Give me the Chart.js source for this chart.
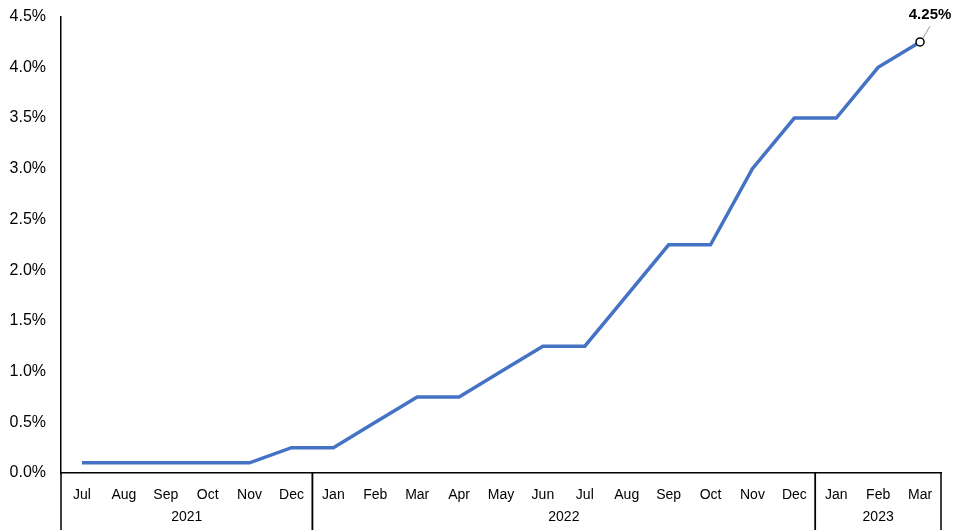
<!DOCTYPE html>
<html>
<head>
<meta charset="utf-8">
<script src="https://cdn.jsdelivr.net/npm/chart.js@4.4.1/dist/chart.umd.min.js"></script>
<style>
  html, body { margin: 0; padding: 0; background: #fff; }
  #wrap { width: 959px; height: 530px; position: relative; }
</style>
</head>
<body>
<div id="wrap"><canvas id="rate-chart"></canvas></div>
<script>
// Policy rate, monthly, Jul 2021 – Mar 2023
const months = ['Jul', 'Aug', 'Sep', 'Oct', 'Nov', 'Dec',
  'Jan', 'Feb', 'Mar', 'Apr', 'May', 'Jun', 'Jul', 'Aug', 'Sep', 'Oct', 'Nov', 'Dec',
  'Jan', 'Feb', 'Mar'];
const rates = [0.1, 0.1, 0.1, 0.1, 0.1, 0.25,
  0.25, 0.5, 0.75, 0.75, 1.0, 1.25, 1.25, 1.75, 2.25, 2.25, 3.0, 3.5,
  3.5, 4.0, 4.25];
const yearLabels = ['2021', '2022', '2023'];
const yearSpans = [6, 12, 3];
const yTicks = [0, 0.5, 1, 1.5, 2, 2.5, 3, 3.5, 4, 4.5];

const FONT = '"Liberation Sans", Arial, sans-serif';
const lastIdx = rates.length - 1;

// ── Year groups under the month labels + end label ──
const groupPlugin = {
  id: 'groups',
  afterDraw(chart) {
    const { ctx, scales: { x, y }, chartArea } = chart;
    const bottom = chart.height;
    const top = chartArea.bottom;
    const edge = i => {
      if (i <= 0) return chartArea.left;
      if (i >= months.length) return chartArea.right;
      return (x.getPixelForTick(i - 1) + x.getPixelForTick(i)) / 2;
    };
    ctx.save();
    ctx.strokeStyle = '#000';
    ctx.lineWidth = 1.5;
    ctx.fillStyle = '#000';
    ctx.font = '14px ' + FONT;
    ctx.textAlign = 'center';
    ctx.textBaseline = 'middle';
    let start = 0;
    yearLabels.forEach((lab, k) => {
      const end = start + yearSpans[k];
      const x0 = edge(start), x1 = edge(end);
      [x0, x1].forEach(px => {
        ctx.beginPath();
        ctx.moveTo(px, top);
        ctx.lineTo(px, bottom);
        ctx.stroke();
      });
      ctx.fillText(lab, (x0 + x1) / 2, top + 44);
      start = end;
    });

    // last value callout
    const px = x.getPixelForTick(lastIdx);
    const py = y.getPixelForValue(rates[lastIdx]);
    ctx.strokeStyle = '#999';
    ctx.lineWidth = 1;
    ctx.beginPath();
    ctx.moveTo(px + 3, py - 4);
    ctx.lineTo(px + 10, py - 16);
    ctx.stroke();
    ctx.font = 'bold 15px ' + FONT;
    ctx.fillStyle = '#000';
    ctx.fillText(rates[lastIdx].toFixed(2) + '%', px + 10, py - 27);
    ctx.restore();
  }
};

new Chart(document.getElementById('rate-chart'), {
  type: 'line',
  data: {
    labels: months,
    datasets: [{
      data: rates,
      borderColor: '#4472C4',
      borderWidth: 3.5,
      fill: false,
      tension: 0,
      pointRadius: c => c.dataIndex === lastIdx ? 4 : 0,
      pointBackgroundColor: '#fff',
      pointBorderColor: '#000',
      pointBorderWidth: 1.5,
      clip: false,
    }]
  },
  options: {
    responsive: true,
    maintainAspectRatio: false,
    animation: false,
    layout: { padding: { top: -5, right: 18, left: 0, bottom: 0 } },
    plugins: { legend: { display: false }, tooltip: { enabled: false } },
    scales: {
      x: {
        offset: true,
        grid: { display: false, offset: true },
        border: { display: true, color: '#000', width: 1.5 },
        ticks: { color: '#000', font: { family: FONT, size: 14 }, maxRotation: 0, autoSkip: false, padding: 6 },
        afterFit: s => { s.height = 57; }
      },
      y: {
        min: 0, max: 4.5,
        afterBuildTicks: s => { s.ticks = yTicks.map(v => ({ value: v })); },
        grid: { display: false },
        border: { display: true, color: '#000', width: 1.5 },
        ticks: { color: '#000', font: { family: FONT, size: 16 }, padding: 7,
                 callback: v => v.toFixed(1) + '%' },
        afterFit: s => { s.width = 61; }
      }
    }
  },
  plugins: [groupPlugin]
});
</script>
</body>
</html>
